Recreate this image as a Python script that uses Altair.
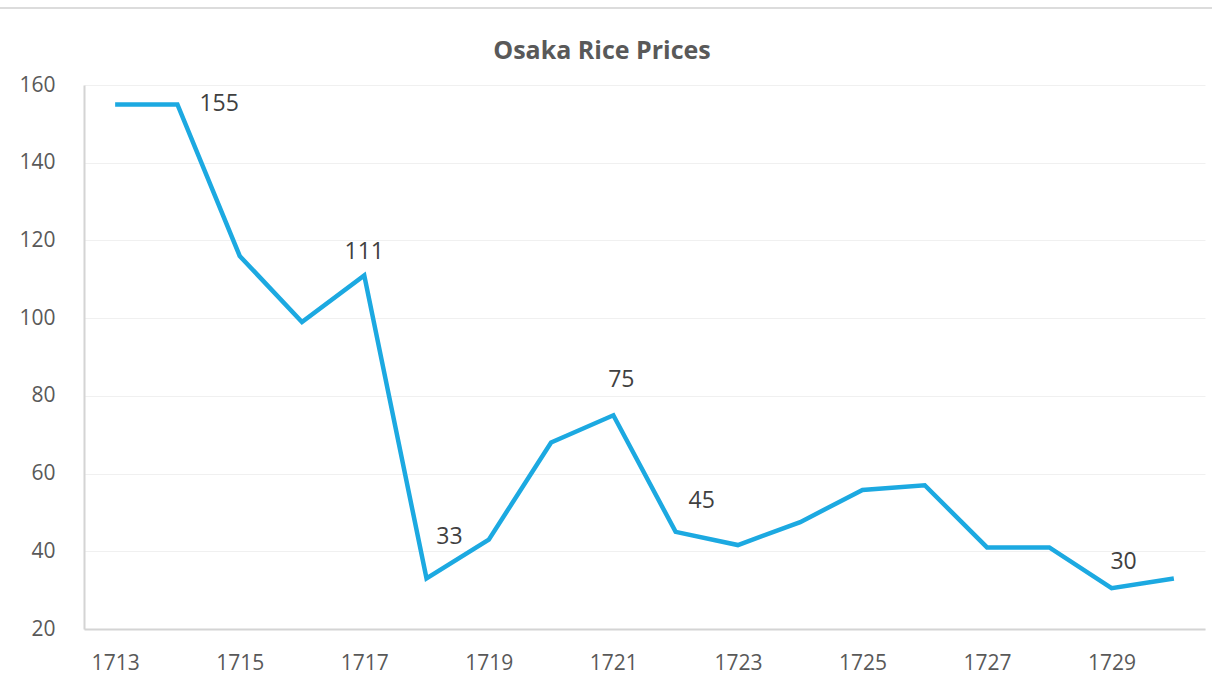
import altair as alt
import pandas as pd

years = list(range(1713, 1731))
prices = [155, 155, 116, 99, 111, 33, 43, 68, 75, 45, 41.6, 47.5, 55.8, 57, 41, 41, 30.5, 33]
label_years = [1714, 1717, 1718, 1721, 1722, 1729]
label_texts = ["155", "111", "33", "75", "45", "30"]
tick_years = [1713, 1715, 1717, 1719, 1721, 1723, 1725, 1727, 1729]

df = pd.DataFrame({"year": years, "price": prices})
lab = pd.DataFrame({"year": label_years, "text": label_texts})
lab["price"] = [prices[years.index(y)] for y in label_years]

W, H = 1121, 544
FONT = "Open Sans"
LINE = "#1CA9E1"

x = alt.X("year:Q", scale=alt.Scale(domain=[1712.5, 1730.5], nice=False, zero=False),
          axis=alt.Axis(values=tick_years, format="d", title=None, grid=False, ticks=False,
                        domainColor="#d4d4d4", domainWidth=2, labelFontSize=21,
                        labelColor="#595959", labelFont=FONT, labelPadding=23))
y = alt.Y("price:Q", scale=alt.Scale(domain=[20, 160], nice=False, zero=False),
          axis=alt.Axis(values=[20, 40, 60, 80, 100, 120, 140, 160], title=None, ticks=False,
                        grid=True, gridColor="#f0f0f0", gridWidth=1,
                        domainColor="#d4d4d4", domainWidth=2, labelFontSize=21,
                        labelColor="#595959", labelFont=FONT, labelPadding=29))

line = alt.Chart(df).mark_line(color=LINE, strokeWidth=4.5, strokeJoin="miter").encode(x=x, y=y)

offsets = {"155": (22, 0, "left"), "111": (0, -23, "center"), "33": (23, -41, "center"),
           "75": (8, -35, "center"), "45": (26, -31, "center"), "30": (12, -26, "center")}
texts = []
for t in label_texts:
    dx, dy, al = offsets[t]
    texts.append(
        alt.Chart(lab).transform_filter(alt.datum.text == t)
        .mark_text(dx=dx, dy=dy, align=al, baseline="middle", fontSize=23, font=FONT, color="#404040")
        .encode(x="year:Q", y="price:Q", text="text:N")
    )

title = alt.Chart(pd.DataFrame({"t": ["Osaka Rice Prices"]})).mark_text(
    fontSize=25, fontWeight="bold", font=FONT, color="#595959", align="center", baseline="middle"
).encode(x=alt.value(518), y=alt.value(-34), text="t:N")

border = alt.Chart(pd.DataFrame({"a": [0]})).mark_rule(color="#dcdcdc", strokeWidth=2).encode(
    x=alt.value(-84), x2=alt.value(W + 7), y=alt.value(-77)
)

chart = alt.layer(border, line, *texts, title).properties(
    width=W, height=H, autosize=alt.AutoSizeParams(type="none"),
    padding={"left": 84, "top": 85, "right": 7, "bottom": 55},
    background="white"
).configure_view(stroke=None)

chart.save("out.html", embed_options={"renderer": "svg", "actions": False})
